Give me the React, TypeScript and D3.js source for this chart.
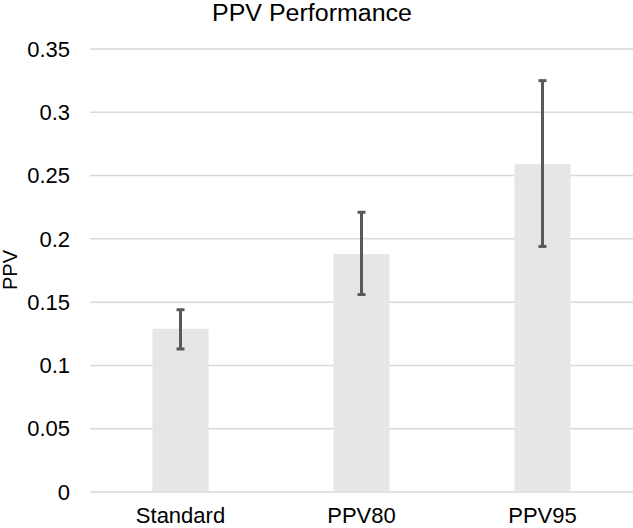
import React from "react";
import * as d3 from "d3";

const categories = ["Standard", "PPV80", "PPV95"];
const values = [0.129, 0.188, 0.259];
const errLow = [0.113, 0.156, 0.194];
const errHigh = [0.144, 0.221, 0.325];
const yTicks = [0, 0.05, 0.1, 0.15, 0.2, 0.25, 0.3, 0.35];
const title = "PPV Performance";
const yLabel = "PPV";

const W = 633;
const H = 528;
const FONT = "'Liberation Sans', Arial, Helvetica, sans-serif";

export default function App() {
  const x = d3
    .scaleBand<string>()
    .domain(categories)
    .range([90, 633])
    .paddingInner(0.69)
    .paddingOuter(0.345);
  const y = d3.scaleLinear().domain([0, 0.35]).range([492, 49]);
  const fmt = (v: number) => (v === 0 ? "0" : String(+v.toFixed(2)));

  return (
    <svg
      width={W}
      height={H}
      style={{ position: "fixed", left: 0, top: 0, background: "#fff" }}
      fontFamily={FONT}
    >
      <rect x={0} y={0} width={W} height={H} fill="#fff" />
      <text x={312} y={21} textAnchor="middle" fontSize={23} textLength={200} lengthAdjust="spacingAndGlyphs" fill="#000">
        {title}
      </text>
      {yTicks.map((t) => (
        <g key={t}>
          <line x1={90} x2={633} y1={y(t)} y2={y(t)} stroke="#d9d9d9" strokeWidth={1.5} />
          <text x={70} y={y(t)} dy="0.35em" textAnchor="end" fontSize={22} fill="#000">
            {fmt(t)}
          </text>
        </g>
      ))}
      <text
        transform={`translate(17,270) rotate(-90)`}
        textAnchor="middle"
        fontSize={20}
        fill="#000"
      >
        {yLabel}
      </text>
      {categories.map((c, i) => {
        const bx = x(c)!;
        const cx = bx + x.bandwidth() / 2;
        return (
          <g key={c}>
            <rect
              x={bx}
              y={y(values[i])}
              width={x.bandwidth()}
              height={y(0) - y(values[i])}
              fill="#e6e6e6"
            />
            <line x1={cx} x2={cx} y1={y(errLow[i])} y2={y(errHigh[i])} stroke="#595959" strokeWidth={3} />
            <line x1={cx - 4} x2={cx + 4} y1={y(errLow[i])} y2={y(errLow[i])} stroke="#595959" strokeWidth={3} />
            <line x1={cx - 4} x2={cx + 4} y1={y(errHigh[i])} y2={y(errHigh[i])} stroke="#595959" strokeWidth={3} />
            <text x={cx} y={523} textAnchor="middle" fontSize={22} fill="#000">
              {c}
            </text>
          </g>
        );
      })}
    </svg>
  );
}
